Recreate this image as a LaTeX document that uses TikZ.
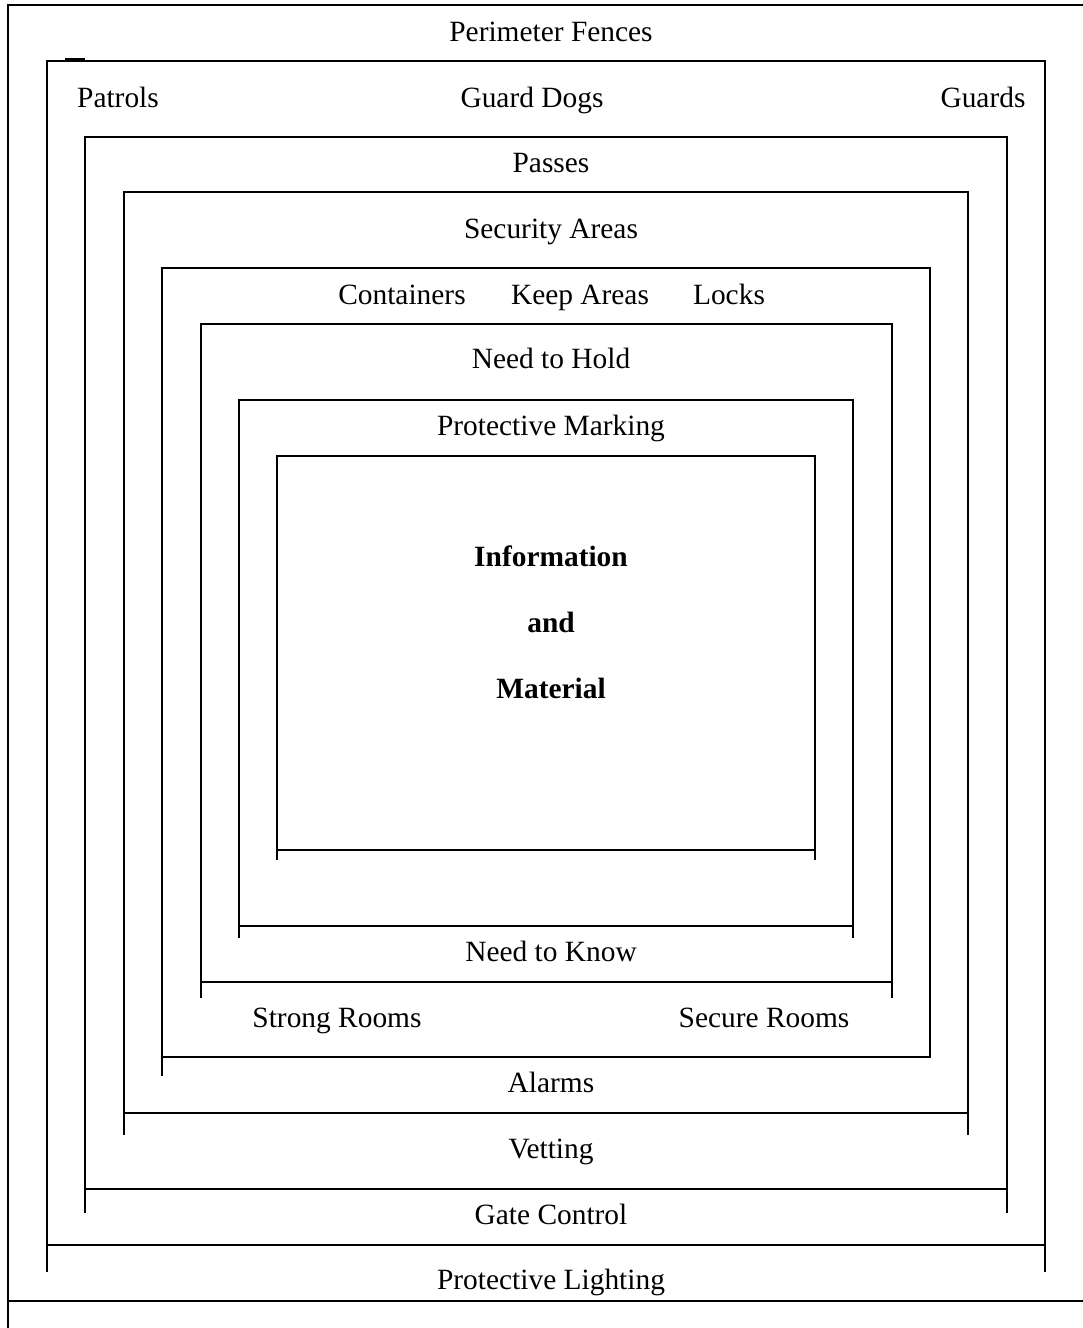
\documentclass[tikz,border=0pt]{standalone}
\usepackage{fontspec}
\setmainfont{Liberation Serif}
\begin{document}
\begin{tikzpicture}[x=0.5pt,y=-0.5pt,
  wall/.style={line width=1pt,line cap=rect},
  lbl/.style={inner sep=0pt,text height=9.7pt,text depth=0pt,
    font=\fontsize{14.7}{17}\selectfont},
  core/.style={lbl,font=\fontsize{14.7}{17}\selectfont\bfseries}]
\useasboundingbox (0,0) rectangle (1082,1328);

% outermost layer: open to the right
\draw[wall] (8,1328) -- (8,5) -- (1090,5);
\draw[wall] (8,1301) -- (1090,1301);

% nested layers: top and sides, bottom rule, sides running past the rule
% {left}{right}{top}{bottom}{end of left side}{end of right side}
\foreach \l/\r/\t/\b/\el/\er in {
   47/1045/61/1245/1271/1271,
   85/1007/137/1189/1212/1212,
  124/968/192/1113/1134/1134,
  162/930/268/1057/1075/1057,
  201/892/324/982/997/997,
  239/853/400/926/937/937,
  277/815/456/850/859/859}{
  \draw[wall] (\l,\el) -- (\l,\t) -- (\r,\t) -- (\r,\er);
  \draw[wall] (\l,\b) -- (\r,\b);
}
% short mark on the top of the second layer
\draw[line width=1.6pt] (65,60) -- (85,60);

% labels, top half
\node[lbl] (fences)  at (551,32)  {Perimeter Fences};
\node[lbl] (patrols) at (118,98)  {Patrols};
\node[lbl] (dogs)    at (532,98)  {Guard Dogs};
\node[lbl] (guards)  at (983,98)  {Guards};
\node[lbl] (passes)  at (551,163) {Passes};
\node[lbl] (secarea) at (551,229) {Security Areas};
\node[lbl] (contain) at (402,295) {Containers};
\node[lbl] (keep)    at (580,295) {Keep Areas};
\node[lbl] (locks)   at (729,295) {Locks};
\node[lbl] (hold)    at (551,359) {Need to Hold};
\node[lbl] (marking) at (551,426) {Protective Marking};

% core
\node[core] (info)   at (551,557) {Information};
\node[core] (and)    at (551,623) {and};
\node[core] (mat)    at (551,689) {Material};

% labels, bottom half
\node[lbl] (know)    at (551,952)  {Need to Know};
\node[lbl] (strong)  at (337,1018) {Strong Rooms};
\node[lbl] (secure)  at (764,1018) {Secure Rooms};
\node[lbl] (alarms)  at (551,1083) {Alarms};
\node[lbl] (vetting) at (551,1149) {Vetting};
\node[lbl] (gate)    at (551,1215) {Gate Control};
\node[lbl] (light)   at (551,1280) {Protective Lighting};
\end{tikzpicture}
\end{document}
